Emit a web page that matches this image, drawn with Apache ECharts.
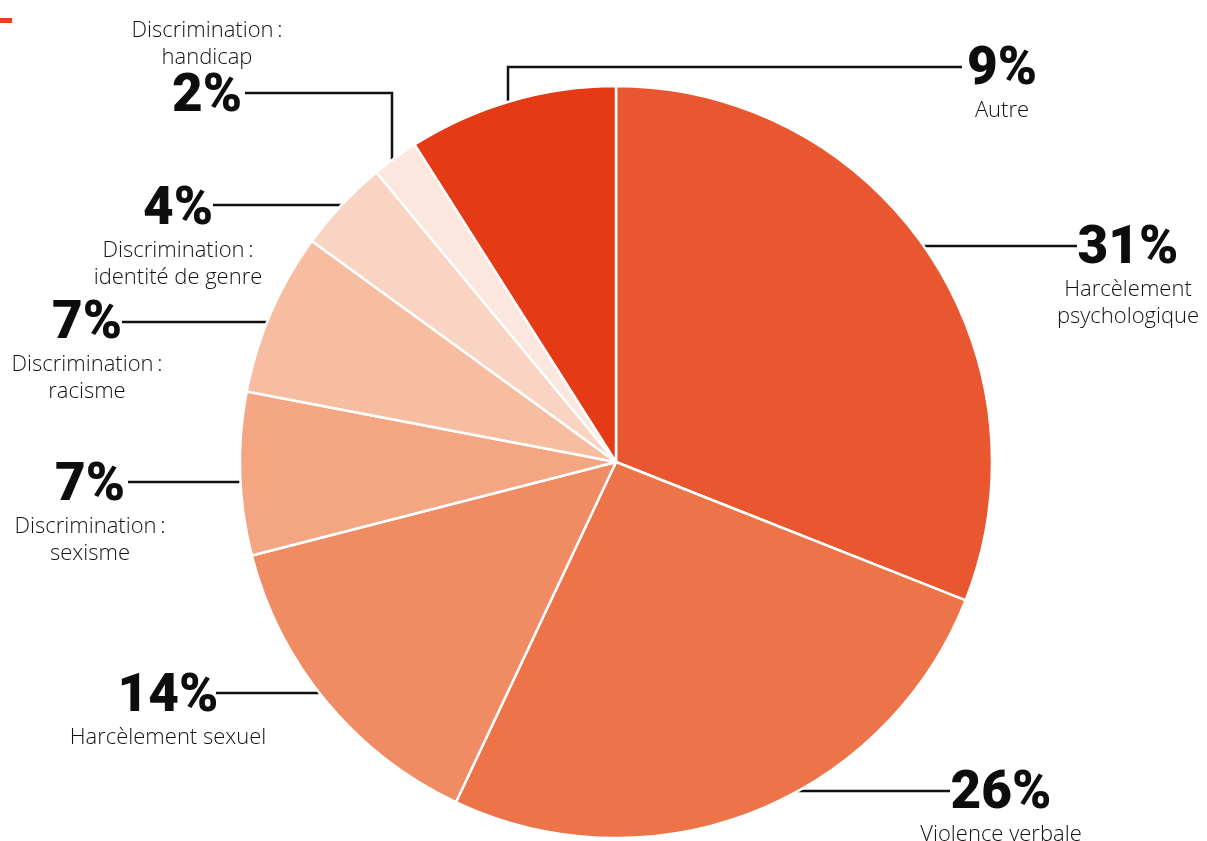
<!DOCTYPE html>
<html>
<head>
<meta charset="utf-8">
<script src="https://cdn.jsdelivr.net/npm/echarts@6/dist/echarts.min.js"></script>
<style>
  html, body { margin: 0; padding: 0; background: #ffffff; }
  #chart { width: 1207px; height: 841px; }
</style>
</head>
<body>
<div id="chart"></div>
<script>
// Categories in clockwise order from 12 o'clock
const categories = [
  'Harcèlement\npsychologique',
  'Violence verbale',
  'Harcèlement sexuel',
  'Discrimination\u2009:\nsexisme',
  'Discrimination\u2009:\nracisme',
  'Discrimination\u2009:\nidentité de genre',
  'Discrimination\u2009:\nhandicap',
  'Autre'
];
// Share of each category (%)
const shares = [31, 26, 14, 7, 7, 4, 2, 9];

const sliceColors = ['#e8572f', '#ed7449', '#f08c64', '#f4a683', '#f6bda1', '#f9d4c2', '#fbe7dd', '#e43a16'];

// Pie geometry (px)
const CX = 616, CY = 462, R = 376;

// Label placement: px/py = centre of the percentage figure,
// lineY = height of the leader line, tx = where the line meets the text,
// ex = column of the vertical drop for elbow-shaped leaders,
// side = which half of the pie the leader reaches.
const labelPlacement = [
  { px: 1128, py: 250, lineY: 246, tx: 1077, side: 'right' },
  { px: 1001, py: 795, lineY: 791, tx: 950,  side: 'right' },
  { px: 168,  py: 698, lineY: 693, tx: 216,  side: 'left' },
  { px: 90,   py: 487, lineY: 482, tx: 128,  side: 'left' },
  { px: 87,   py: 325, lineY: 322, tx: 122,  side: 'left' },
  { px: 178,  py: 211, lineY: 205, tx: 213,  side: 'left' },
  { px: 207,  py: 98,  lineY: 93,  tx: 245,  ex: 392, nameFirst: true },
  { px: 1002, py: 71,  lineY: 67,  tx: 962,  ex: 508 }
];

const P_LINE = 53, N_LINE = 27;

function rimX(y, side) {
  const d = Math.sqrt(Math.max(0, R * R - (y - CY) * (y - CY)));
  return side === 'right' ? CX + d : CX - d;
}
function rimYTop(x) {
  const d = Math.sqrt(Math.max(0, R * R - (x - CX) * (x - CX)));
  return CY - d;
}

const chart = echarts.init(document.getElementById('chart'), null, { renderer: 'canvas' });

chart.setOption({
  animation: false,
  backgroundColor: '#ffffff',
  graphic: [
    { type: 'rect', left: 0, top: 18, shape: { width: 12, height: 5 }, style: { fill: '#e5411b' } }
  ],
  series: [{
    type: 'pie',
    center: [CX, CY],
    radius: [0, R],
    startAngle: 90,
    clockwise: true,
    avoidLabelOverlap: false,
    itemStyle: { borderColor: '#ffffff', borderWidth: 2.5 },
    data: categories.map((name, i) => ({
      name: name,
      value: shares[i],
      itemStyle: { color: sliceColors[i] }
    })),
    label: {
      show: true,
      position: 'outside',
      formatter: (p) => {
        const pct = '{p|' + p.value + '%}';
        const nm = '{n|' + p.name + '}';
        return labelPlacement[p.dataIndex].nameFirst ? nm + '\n' + pct : pct + '\n' + nm;
      },
      rich: {
        p: { fontFamily: 'Roboto', fontWeight: 900, fontSize: 53, lineHeight: P_LINE, color: '#0d0d0d', align: 'center' },
        n: { fontFamily: 'Open Sans', fontWeight: 300, fontSize: 22, lineHeight: N_LINE, color: '#111111', align: 'center' }
      }
    },
    labelLine: {
      show: true,
      lineStyle: { color: '#111111', width: 2.5 }
    },
    labelLayout: (params) => {
      const L = labelPlacement[params.dataIndex];
      const nameLines = categories[params.dataIndex].split('\n').length;
      const top = L.nameFirst ? L.py - P_LINE / 2 - nameLines * N_LINE : L.py - P_LINE / 2;
      let pts;
      if (L.ex != null) {
        pts = [[L.ex, rimYTop(L.ex)], [L.ex, L.lineY], [L.tx, L.lineY]];
      } else {
        const rx = rimX(L.lineY, L.side);
        pts = [[rx, L.lineY], [(rx + L.tx) / 2, L.lineY], [L.tx, L.lineY]];
      }
      return {
        x: L.px,
        y: top,
        align: 'center',
        verticalAlign: 'top',
        labelLinePoints: pts
      };
    }
  }]
});
</script>
</body>
</html>
